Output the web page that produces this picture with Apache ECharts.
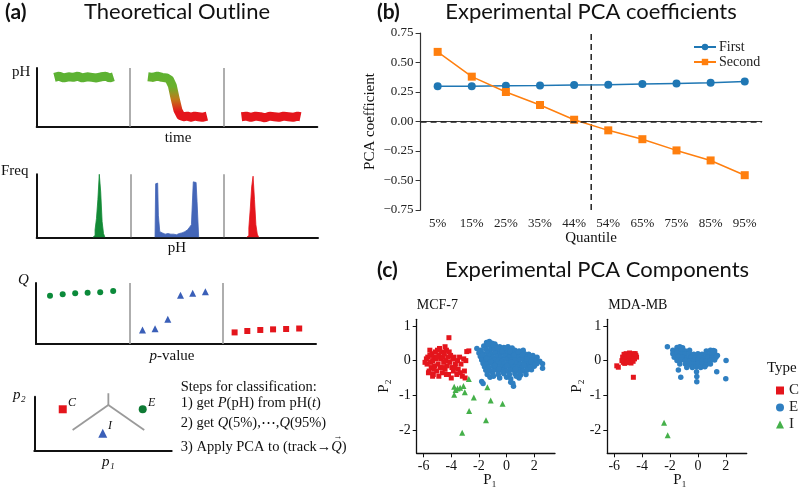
<!DOCTYPE html>
<html><head><meta charset="utf-8">
<script src="https://cdn.jsdelivr.net/npm/echarts@6/dist/echarts.min.js"></script>
<style>html,body{margin:0;padding:0;background:#fff}#c{width:800px;height:489px}</style>
</head><body><div id="c"></div>
<script>
// ---------- Panel (a) schematic data (x in compartment units 0..3, y 0..1) ----------
const phStable = [[0.19,0.84],[0.24,0.86],[0.29,0.83],[0.34,0.85],[0.39,0.84],[0.44,0.86],[0.49,0.83],[0.54,0.85],[0.59,0.84],[0.64,0.83],[0.69,0.85],[0.74,0.86],[0.78,0.83],[0.82,0.85]];
const phTransition = [[1.19,0.85],[1.24,0.84],[1.29,0.86],[1.34,0.84],[1.39,0.83],[1.42,0.8],[1.45,0.7],[1.48,0.48],[1.51,0.28],[1.54,0.19],[1.57,0.17],[1.61,0.18],[1.65,0.16],[1.69,0.18],[1.73,0.17],[1.77,0.16],[1.82,0.18]];
const phAcidic = [[2.19,0.17],[2.24,0.18],[2.29,0.16],[2.34,0.18],[2.39,0.17],[2.44,0.15],[2.49,0.18],[2.54,0.17],[2.59,0.16],[2.64,0.18],[2.69,0.17],[2.74,0.16],[2.79,0.18],[2.82,0.17]];

const histGreen = [[0.6,0],[0.615,0.03],[0.63,0.12],[0.645,0.3],[0.66,0.6],[0.675,1.0],[0.69,0.72],[0.705,0.25],[0.72,0.06],[0.735,0]];
const histBlue = [[1.262,0],[1.275,0.85],[1.29,0.86],[1.305,0.35],[1.32,0.09],[1.34,0.07],[1.36,0.05],[1.38,0.08],[1.40,0.06],[1.42,0.05],[1.44,0.07],[1.46,0.05],[1.48,0.04],[1.50,0.05],[1.52,0.06],[1.54,0.07],[1.56,0.06],[1.58,0.09],[1.60,0.12],[1.62,0.1],[1.64,0.16],[1.66,0.2],[1.68,0.88],[1.70,0.87],[1.72,0.57],[1.735,0]];
const histRed = [[2.24,0],[2.255,0.03],[2.27,0.15],[2.285,0.45],[2.30,0.8],[2.315,0.97],[2.33,0.6],[2.345,0.2],[2.36,0.05],[2.375,0]];

const qStable = [[0.15,0.79],[0.286,0.815],[0.42,0.83],[0.553,0.84],[0.688,0.85],[0.827,0.87]];
const qTransition = [[1.141,0.23],[1.276,0.25],[1.412,0.405],[1.548,0.798],[1.679,0.83],[1.815,0.857]];
const qAcidic = [[2.128,0.19],[2.264,0.213],[2.403,0.23],[2.54,0.24],[2.68,0.246],[2.82,0.254]];

const classC = [[0.207,0.767]];
const classE = [[0.789,0.767]];
const classI = [[0.498,0.322]];
const boundaryStem = [[0.539,1.063],[0.539,0.846]];
const boundaryLeft = [[0.539,0.846],[0.279,0.383]];
const boundaryRight = [[0.539,0.846],[0.80,0.383]];

// ---------- Panel (b) ----------
const quantiles = ['5%','15%','25%','35%','44%','54%','65%','75%','85%','95%'];
const firstPC = [0.298,0.298,0.302,0.305,0.31,0.312,0.318,0.323,0.329,0.34];
const secondPC = [0.59,0.38,0.25,0.14,0.015,-0.075,-0.15,-0.245,-0.33,-0.455];
const pcaCutLine = [[5,-0.75],[5,0.75]];

// ---------- Panel (c) ----------
const pTicksX = [-6,-4,-2,0,2];
const pTicksY = [-2,-1,0,1];
const mcfC = [[-4.17,0.66],[-2.88,0.26],[-2.73,0.28],[-5.8,0.05],[-5.75,-0.1],[-5.7,0.1],[-5.6,-0.3],[-5.55,0.15],[-5.5,-0.05],[-5.45,-0.2],[-5.4,0.2],[-5.35,0.0],[-5.3,-0.4],[-5.25,0.1],[-5.2,-0.15],[-5.15,0.25],[-5.1,0.05],[-5.05,-0.3],[-5.0,0.3],[-4.95,-0.1],[-4.9,0.15],[-4.85,0.35],[-4.8,-0.2],[-4.75,0.05],[-4.7,0.25],[-4.65,-0.35],[-4.6,0.1],[-4.55,-0.05],[-4.5,0.2],[-4.45,-0.25],[-4.4,0.0],[-4.35,0.3],[-4.3,-0.15],[-4.25,0.1],[-4.2,-0.4],[-4.15,0.25],[-4.1,-0.05],[-4.05,0.15],[-4.0,-0.5],[-3.95,-0.2],[-3.9,0.05],[-3.85,-0.3],[-3.8,0.1],[-3.7,-0.1],[-3.6,-0.4],[-3.55,0.0],[-3.5,-0.25],[-3.4,0.1],[-3.3,-0.1],[-3.2,-0.45],[-3.1,0.05],[-3.05,-0.3],[-3.0,-0.5],[-2.95,0.0],[-5.65,-0.35],[-5.9,-0.05],[-5.35,-0.45],[-4.9,-0.45],[-4.45,0.4],[-5.0,0.1],[-5.55,0.3],[-5.25,-0.25],[-4.6,-0.2],[-4.35,-0.4],[-3.75,-0.2],[-3.35,-0.35]];
const mcfE = [[-1.45,0.52],[-1.25,0.55],[-1.05,0.5],[-0.85,0.48],
[-1.65,0.42],[-1.35,0.44],[-1.1,0.4],[-0.8,0.43],[-0.5,0.4],[-0.2,0.38],[0.1,0.4],[0.4,0.36],
[-2.15,0.35],[-1.85,0.3],[-1.5,0.33],[-1.2,0.3],[-0.9,0.32],[-0.6,0.3],[-0.3,0.33],[0.0,0.3],[0.3,0.32],[0.6,0.3],[0.9,0.28],[1.2,0.3],
[-2.0,0.22],[-1.7,0.2],[-1.4,0.23],[-1.1,0.2],[-0.8,0.22],[-0.5,0.2],[-0.2,0.23],[0.1,0.2],[0.4,0.22],[0.7,0.2],[1.0,0.22],[1.3,0.2],[1.6,0.18],[1.9,0.15],
[-1.9,0.12],[-1.6,0.1],[-1.3,0.13],[-1.0,0.1],[-0.7,0.12],[-0.4,0.1],[-0.1,0.13],[0.2,0.1],[0.5,0.12],[0.8,0.1],[1.1,0.12],[1.4,0.1],[1.7,0.12],[2.0,0.08],[2.2,0.1],
[-1.8,0.02],[-1.5,0.0],[-1.2,0.03],[-0.9,0.0],[-0.6,0.02],[-0.3,0.0],[0.0,0.03],[0.3,0.0],[0.6,0.02],[0.9,0.0],[1.2,0.03],[1.5,0.0],[1.8,0.02],[2.1,0.0],[2.4,-0.02],
[-1.7,-0.08],[-1.4,-0.1],[-1.1,-0.07],[-0.8,-0.1],[-0.5,-0.08],[-0.2,-0.1],[0.1,-0.07],[0.4,-0.1],[0.7,-0.08],[1.0,-0.1],[1.3,-0.07],[1.6,-0.1],[1.9,-0.08],[2.2,-0.08],[2.6,-0.09],
[-1.6,-0.18],[-1.3,-0.2],[-1.0,-0.17],[-0.7,-0.2],[-0.4,-0.18],[-0.1,-0.2],[0.2,-0.17],[0.5,-0.2],[0.8,-0.18],[1.1,-0.2],[1.4,-0.17],[1.7,-0.2],[2.0,-0.16],[2.6,-0.22],
[-1.5,-0.28],[-1.2,-0.3],[-0.9,-0.27],[-0.6,-0.3],[-0.3,-0.28],[0.0,-0.3],[0.3,-0.27],[0.6,-0.3],[0.9,-0.28],[1.2,-0.3],[1.5,-0.27],[1.8,-0.26],
[-1.4,-0.4],[-1.0,-0.38],[-0.6,-0.4],[-0.2,-0.38],[0.2,-0.4],[0.6,-0.38],[1.0,-0.42],[1.4,-0.4],
[-1.2,-0.48],[-0.5,-0.5],[0.0,-0.48],[0.3,-0.52],[0.9,-0.5],
[-1.8,-0.6],[-1.7,-0.66],[0.3,-0.62],[0.45,-0.65],[0.5,-0.74],
[-1.3,0.48],[-0.95,0.45],[-0.65,0.36],[-0.35,0.27],[-0.05,0.36],[0.25,0.26],[0.55,0.16],[0.85,0.25],[1.15,0.16],[1.45,0.05],[1.75,-0.03],[2.05,-0.12],[-1.75,0.16],[-1.45,0.06],[-1.15,-0.03],[-0.85,-0.14],[-0.55,-0.24],[-0.25,-0.33],[0.05,-0.14],[0.35,-0.05],[0.65,-0.24],[0.95,-0.34],[1.25,-0.13],[-0.95,-0.45],[0.7,-0.45]];
const mcfI = [[-2.73,-0.53],[-3.79,-0.75],[-3.55,-0.8],[-3.36,-0.78],[-3.12,-0.73],[-3.69,-0.85],[-3.79,-0.98],[-3.02,-0.91],[-2.37,-1.06],[-1.39,-0.77],[-1.15,-1.15],[-0.29,-1.24],[-2.71,-1.45],[-1.49,-1.72],[-3.21,-2.08]];

const mdaC = [[-5.82,-0.15],[-5.71,-0.19],[-4.63,-0.48],[-5.4,0.1],[-5.3,0.18],[-5.35,-0.05],[-5.2,0.05],[-5.15,0.2],[-5.05,0.1],[-5.0,-0.05],[-4.9,0.22],[-4.85,0.05],[-4.75,0.18],[-4.7,0.1],[-4.6,0.2],[-4.55,0.05],[-4.45,0.15],[-4.4,0.1],[-5.25,-0.08],[-5.1,-0.05],[-4.95,0.12],[-4.8,-0.07],[-4.65,-0.02],[-4.5,0.2],[-5.45,0.0]];
const mdaE = [[-1.5,0.38],[-1.3,0.4],[-1.1,0.37],
[-1.8,0.3],[-1.5,0.28],[-1.2,0.3],[-0.9,0.28],[-0.6,0.3],[0.6,0.28],[0.9,0.3],[1.2,0.28],
[-1.8,0.2],[-1.5,0.22],[-1.2,0.2],[-0.9,0.18],[-0.6,0.2],[-0.3,0.18],[0.0,0.2],[0.3,0.18],[0.6,0.2],[0.9,0.18],[1.2,0.2],[1.4,0.15],
[-1.7,0.1],[-1.4,0.12],[-1.1,0.1],[-0.8,0.08],[-0.5,0.1],[-0.2,0.08],[0.1,0.1],[0.4,0.08],[0.7,0.1],[1.0,0.08],[1.3,0.1],
[-1.5,0.0],[-1.2,0.02],[-0.9,0.0],[-0.6,-0.02],[-0.3,0.0],[0.0,0.02],[0.3,0.0],[0.6,-0.02],[0.9,0.0],[1.2,0.02],
[-1.3,-0.1],[-0.9,-0.1],[-0.6,-0.12],[-0.3,-0.1],[0.0,-0.08],[0.3,-0.1],[0.6,-0.12],[0.9,-0.1],
[-0.8,-0.2],[-0.4,-0.2],[-0.1,-0.18],[0.2,-0.2],[0.5,-0.18],
[-2.19,0.4],[-1.4,-0.27],[-1.23,-0.48],[-0.08,-0.46],[-0.08,-0.61],[-0.1,-0.32],[1.35,-0.32],[2.02,0.0],[2.0,-0.52],[1.1,0.29]];
const mdaI = [[-2.43,-1.79],[-2.17,-2.15]];

// ---------- styles ----------
const SERIF = '"Liberation Serif", "DejaVu Serif", serif';
const SANS = 'Lato, "Open Sans", sans-serif';
const cRed = '#e4151c', cBlue = '#2f7fc1', cGreen = '#45b04a';
const sepLine = {silent:true, symbol:'none', label:{show:false}, lineStyle:{color:'#9a9a9a', width:1.6, type:'solid'}, data:[{xAxis:1},{xAxis:2}]};

function schemAxis(grid, min, max){
  return {type:'value', gridIndex:grid, min:min, max:max,
    axisLine:{show:true, onZero:false, lineStyle:{color:'#111', width:2}},
    axisTick:{show:false}, axisLabel:{show:false}, splitLine:{show:false}};
}
function pAxisX(grid){
  return {type:'value', gridIndex:grid, min:-6.5, max:3.5,
    axisLine:{show:true, onZero:false, lineStyle:{color:'#111', width:1.3}},
    axisTick:{show:true, length:4, customValues:pTicksX, lineStyle:{color:'#111'}},
    axisLabel:{show:true, customValues:pTicksX, margin:6, fontFamily:SERIF, fontSize:14, color:'#111', formatter:v=>String(v)},
    splitLine:{show:false}};
}
function pAxisY(grid){
  return {type:'value', gridIndex:grid, min:-2.67, max:1.19,
    axisLine:{show:true, onZero:false, lineStyle:{color:'#111', width:1.3}},
    axisTick:{show:true, length:4, customValues:pTicksY, lineStyle:{color:'#111'}},
    axisLabel:{show:true, customValues:pTicksY, margin:6, fontFamily:SERIF, fontSize:14, color:'#111', formatter:v=>String(v)},
    splitLine:{show:false}};
}
function T(x, y, text, font, align, extra){
  const st = {text:text, font:font, fill:'#111', align:align||'left', textAlign:align||'left', verticalAlign:'middle', textVerticalAlign:'middle'};
  if (extra && extra.rich) st.rich = extra.rich;
  const el = {type:'text', x:x, y:y, style:st, silent:true};
  if (extra && extra.rotation) el.rotation = extra.rotation;
  return el;
}
const serif15 = '15px ' + SERIF;
const italic15 = 'italic 15px ' + SERIF;
const stepFont = '14.5px ' + SERIF;
const stepItalic = 'italic 14.5px ' + SERIF;
const richIt = {i:{font:italic15}, n:{font:serif15}};
const richStep = {i:{font:stepItalic}, n:{font:stepFont}};
// measure prefix for placing the vector arrow over Q
const mctx = document.createElement('canvas').getContext('2d');
mctx.font = stepFont;
const step3Prefix = '3) Apply PCA to (track\u2192';
const qLeft = 180.7 + mctx.measureText(step3Prefix).width;
mctx.font = stepItalic;
const qWidth = mctx.measureText('Q').width;

const chart = echarts.init(document.getElementById('c'), null, {renderer:'canvas'});
const option = {
  animation:false,
  backgroundColor:'#fff',
  grid:[
    {left:36.7, top:68, width:280.6, height:58.7},
    {left:36.7, top:174.3, width:281.3, height:63},
    {left:36, top:283, width:280, height:61},
    {left:34.3, top:396.7, width:137.4, height:54},
    {left:420.6, top:33, width:341.2, height:177},
    {left:416.7, top:319.3, width:138.3, height:134},
    {left:607.3, top:319.3, width:139.4, height:134}
  ],
  xAxis:[
    schemAxis(0,0,3), schemAxis(1,0,3), schemAxis(2,0,3), schemAxis(3,0,1),
    {type:'category', gridIndex:4, data:quantiles, boundaryGap:true,
      axisLine:{lineStyle:{color:'#333', width:1.2}},
      axisTick:{alignWithLabel:true, length:5, lineStyle:{color:'#333'}},
      axisLabel:{fontFamily:SERIF, fontSize:13, color:'#222', margin:7},
      splitLine:{show:false}},
    {type:'value', gridIndex:4, min:0, max:10, show:false},
    pAxisX(5), pAxisX(6)
  ],
  yAxis:[
    schemAxis(0,0,1), schemAxis(1,0,1), schemAxis(2,0,1), schemAxis(3,0,1),
    {type:'value', gridIndex:4, min:-0.75, max:0.75, interval:0.25,
      axisLine:{show:true, onZero:false, lineStyle:{color:'#333', width:1.2}},
      axisTick:{show:true, length:5, lineStyle:{color:'#333'}},
      axisLabel:{fontFamily:SERIF, fontSize:13, color:'#222', margin:7, formatter:v=>v.toFixed(2).replace('-','\u2212')},
      splitLine:{show:false}},
    pAxisY(5), pAxisY(6)
  ],
  legend:[
    {data:['First','Second'], orient:'vertical', left:688, top:35, itemWidth:22, itemHeight:8, itemGap:1,
      textStyle:{fontFamily:SERIF, fontSize:14, color:'#222', lineHeight:14, padding:[0,0,0,-2]}},
    {data:['C','E','I'], orient:'vertical', left:771, top:378, itemWidth:8, itemHeight:8, itemGap:2,
      textStyle:{fontFamily:SERIF, fontSize:15, color:'#222', lineHeight:15}}
  ],
  series:[
    // (a) pH vs time
    {type:'line', xAxisIndex:0, yAxisIndex:0, data:phStable, symbol:'none', lineStyle:{color:'#5db233', width:9, cap:'butt'}, markLine:sepLine, z:3},
    {type:'line', xAxisIndex:0, yAxisIndex:0, data:phTransition, symbol:'none',
      lineStyle:{width:9, cap:'butt', join:'round', color:new echarts.graphic.LinearGradient(0,0,0,1,[{offset:0,color:'#5db233'},{offset:0.3,color:'#6ab02c'},{offset:0.55,color:'#c07a1a'},{offset:0.8,color:'#e4151c'},{offset:1,color:'#e4151c'}])}, z:3},
    {type:'line', xAxisIndex:0, yAxisIndex:0, data:phAcidic, symbol:'none', lineStyle:{color:'#e4151c', width:9, cap:'butt'}, z:3},
    // (a) histograms
    {type:'line', xAxisIndex:1, yAxisIndex:1, data:histGreen, step:'middle', symbol:'none', lineStyle:{color:'#138a36', width:0.8}, areaStyle:{color:'#138a36', opacity:1}, markLine:sepLine, z:3},
    {type:'line', xAxisIndex:1, yAxisIndex:1, data:histBlue, step:'middle', symbol:'none', lineStyle:{color:'#4466b8', width:0.8}, areaStyle:{color:'#4466b8', opacity:1}, z:3},
    {type:'line', xAxisIndex:1, yAxisIndex:1, data:histRed, step:'middle', symbol:'none', lineStyle:{color:'#e4151c', width:0.8}, areaStyle:{color:'#e4151c', opacity:1}, z:3},
    // (a) quantiles
    {type:'scatter', xAxisIndex:2, yAxisIndex:2, data:qStable, symbol:'circle', symbolSize:6, itemStyle:{color:'#0b8a3a', opacity:1}, markLine:sepLine, z:3},
    {type:'scatter', xAxisIndex:2, yAxisIndex:2, data:qTransition, symbol:'triangle', symbolSize:7, itemStyle:{color:'#3a5fb8', opacity:1}, z:3},
    {type:'scatter', xAxisIndex:2, yAxisIndex:2, data:qAcidic, symbol:'rect', symbolSize:6, itemStyle:{color:'#e4151c', opacity:1}, z:3},
    // (a) classification
    {type:'line', xAxisIndex:3, yAxisIndex:3, data:boundaryStem, symbol:'none', clip:false, lineStyle:{color:'#9a9a9a', width:1.8}},
    {type:'line', xAxisIndex:3, yAxisIndex:3, data:boundaryLeft, symbol:'none', clip:false, lineStyle:{color:'#9a9a9a', width:1.8}},
    {type:'line', xAxisIndex:3, yAxisIndex:3, data:boundaryRight, symbol:'none', clip:false, lineStyle:{color:'#9a9a9a', width:1.8}},
    {type:'scatter', xAxisIndex:3, yAxisIndex:3, data:classC, symbol:'rect', symbolSize:8, itemStyle:{color:'#e4151c', opacity:1}},
    {type:'scatter', xAxisIndex:3, yAxisIndex:3, data:classE, symbol:'circle', symbolSize:8, itemStyle:{color:'#0e7a34', opacity:1}},
    {type:'scatter', xAxisIndex:3, yAxisIndex:3, data:classI, symbol:'triangle', symbolSize:9, itemStyle:{color:'#3a5fb8', opacity:1}},
    // (b)
    {type:'line', xAxisIndex:5, yAxisIndex:4, data:pcaCutLine, symbol:'none', lineStyle:{color:'#222', width:1.5, type:[6,4]}, z:1, silent:true},
    {type:'line', name:'First', xAxisIndex:4, yAxisIndex:4, data:firstPC, symbol:'circle', symbolSize:8,
      itemStyle:{color:'#1f77b4'}, lineStyle:{color:'#1f77b4', width:1.5}, z:3,
      markLine:{silent:true, symbol:'none', label:{show:false}, lineStyle:{color:'#222', width:1.5, type:[6,4]}, data:[{yAxis:0}]}},
    {type:'line', name:'Second', xAxisIndex:4, yAxisIndex:4, data:secondPC, symbol:'rect', symbolSize:8,
      itemStyle:{color:'#ff7f0e'}, lineStyle:{color:'#ff7f0e', width:1.5}, z:4},
    // (c) MCF-7
    {type:'scatter', name:'C', xAxisIndex:6, yAxisIndex:5, data:mcfC, symbol:'rect', symbolSize:5, itemStyle:{color:cRed, opacity:1}},
    {type:'scatter', name:'E', xAxisIndex:6, yAxisIndex:5, data:mcfE, symbol:'circle', symbolSize:5.5, itemStyle:{color:cBlue, opacity:1}},
    {type:'scatter', name:'I', xAxisIndex:6, yAxisIndex:5, data:mcfI, symbol:'triangle', symbolSize:6, itemStyle:{color:cGreen, opacity:1}},
    // (c) MDA-MB
    {type:'scatter', name:'C', xAxisIndex:7, yAxisIndex:6, data:mdaC, symbol:'rect', symbolSize:5, itemStyle:{color:cRed, opacity:1}},
    {type:'scatter', name:'E', xAxisIndex:7, yAxisIndex:6, data:mdaE, symbol:'circle', symbolSize:5.5, itemStyle:{color:cBlue, opacity:1}},
    {type:'scatter', name:'I', xAxisIndex:7, yAxisIndex:6, data:mdaI, symbol:'triangle', symbolSize:6, itemStyle:{color:cGreen, opacity:1}}
  ],
  graphic:[
    T(5, 12, '(a)', 'bold 21px ' + SANS),
    T(177, 12, 'Theoretical Outline', '22px ' + SANS, 'center'),
    T(377, 12, '(b)', 'bold 21px ' + SANS),
    T(591, 12, 'Experimental PCA coefficients', '22px ' + SANS, 'center'),
    T(377, 270, '(c)', 'bold 21px ' + SANS),
    T(597, 270, 'Experimental PCA Components', '22px ' + SANS, 'center'),
    // (a) labels
    T(12, 72, 'pH', serif15),
    T(178, 138, 'time', serif15, 'center'),
    T(1, 171.5, 'Freq', serif15),
    T(177, 248, 'pH', serif15, 'center'),
    T(18, 280, 'Q', italic15),
    T(172, 356, '{i|p}{n|-value}', serif15, 'center', {rich:richIt}),
    T(13, 395, 'p\u2082', italic15),
    T(102, 462, 'p\u2081', italic15),
    T(68, 403, 'C', 'italic 12px ' + SERIF),
    T(148, 402.5, 'E', 'italic 12px ' + SERIF),
    T(108, 425.5, 'I', 'italic 12px ' + SERIF),
    T(180.7, 386.7, 'Steps for classification:', stepFont),
    T(180.7, 403.3, '{n|1) get }{i|P}{n|(pH) from pH(}{i|t}{n|)}', stepFont, 'left', {rich:richStep}),
    T(180.7, 423.3, '{n|2) get }{i|Q}{n|(5%),\u22EF,}{i|Q}{n|(95%)}', stepFont, 'left', {rich:richStep}),
    T(180.7, 446.7, '{n|' + step3Prefix + '}{i|Q}{n|)}', stepFont, 'left', {rich:richStep}),
    T(qLeft + qWidth/2 + 1.5, 437, '\u2192', '9px ' + SERIF, 'center'),
    // (b) labels
    T(370, 121.5, 'PCA coefficient', serif15, 'center', {rotation:Math.PI/2}),
    T(591, 238, 'Quantile', serif15, 'center'),
    // (c) labels
    T(416.7, 305, 'MCF-7', '14px ' + SERIF),
    T(608.3, 305, 'MDA-MB', '14px ' + SERIF),
    T(384, 386, 'P\u2082', serif15, 'center', {rotation:Math.PI/2}),
    T(577, 386, 'P\u2082', serif15, 'center', {rotation:Math.PI/2}),
    T(490, 480, 'P\u2081', serif15, 'center'),
    T(680, 480, 'P\u2081', serif15, 'center'),
    T(767, 368, 'Type', serif15)
  ]
};
chart.setOption(option);
</script></body></html>
